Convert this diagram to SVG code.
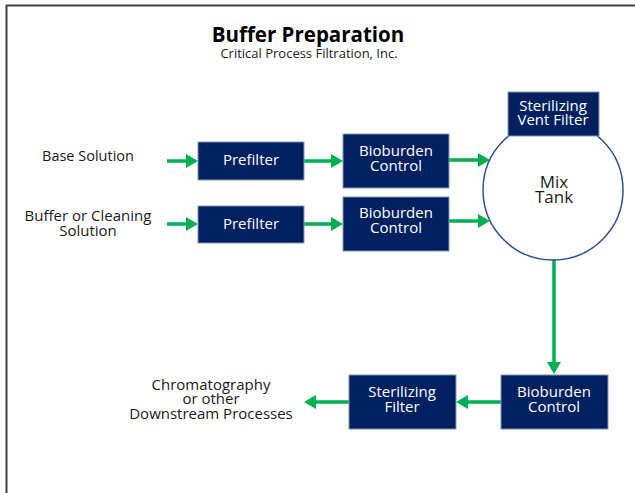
<svg xmlns="http://www.w3.org/2000/svg" width="635" height="493" viewBox="0 0 635 493">
<style>
.box{fill:#002060;stroke:#8497b0;stroke-width:1}
.bt{font-family:"Open Sans","Liberation Sans",sans-serif;font-size:15px;fill:#ffffff;text-anchor:middle}
.lt{font-family:"Open Sans","Liberation Sans",sans-serif;font-size:15px;fill:#1a1a1a;text-anchor:middle}
.ar{stroke:#00b050;stroke-width:3.5;fill:none;marker-end:url(#ah)}
</style>
<defs>
<marker id="ah" markerUnits="userSpaceOnUse" markerWidth="12" markerHeight="14" refX="4" refY="7" orient="auto">
<path d="M0,0 L12,7 L0,14 z" fill="#00b050"/>
</marker>
</defs>
<rect width="635" height="493" fill="#ffffff"/>
<path d="M6.5,493 V5.5 H635" fill="none" stroke="#404040" stroke-width="2"/>
<g id="title">
<text x="308" y="42" style="font-family:'Open Sans','Liberation Sans',sans-serif;font-size:20.5px;font-weight:bold;fill:#000;text-anchor:middle">Buffer Preparation</text>
<text x="309" y="58" style="font-family:'Open Sans','Liberation Sans',sans-serif;font-size:13px;fill:#1a1a1a;text-anchor:middle">Critical Process Filtration, Inc.</text>
</g>
<g id="connectors">
<line class="ar" x1="167" y1="161" x2="190" y2="161"/>
<line class="ar" x1="167" y1="224" x2="190" y2="224"/>
<line class="ar" x1="304" y1="161" x2="335" y2="161"/>
<line class="ar" x1="304" y1="224" x2="335" y2="224"/>
<line class="ar" x1="449" y1="160" x2="482" y2="160"/>
<line class="ar" x1="449" y1="221" x2="482" y2="221"/>
<line class="ar" x1="554" y1="260" x2="554" y2="366"/>
<line class="ar" x1="501" y1="402" x2="464" y2="402"/>
<line class="ar" x1="349" y1="402" x2="312" y2="402"/>
</g>
<g id="base-solution"><text class="lt" x="88" y="161" style="font-size:14.5px">Base Solution</text></g>
<g id="buffer-solution"><text class="lt" x="88" y="221">Buffer or Cleaning</text><text class="lt" x="88" y="236">Solution</text></g>
<g id="prefilter1"><rect class="box" x="198" y="142" width="106" height="38"/><text class="bt" x="251" y="165">Prefilter</text></g>
<g id="prefilter2"><rect class="box" x="198" y="206" width="106" height="37"/><text class="bt" x="251" y="229">Prefilter</text></g>
<g id="bioburden1"><rect class="box" x="343" y="134" width="106" height="54"/><text class="bt" x="396" y="156">Bioburden</text><text class="bt" x="396" y="171">Control</text></g>
<g id="bioburden2"><rect class="box" x="343" y="197" width="106" height="54"/><text class="bt" x="396" y="218">Bioburden</text><text class="bt" x="396" y="233">Control</text></g>
<g id="mix-tank"><circle cx="553" cy="190" r="70" fill="#ffffff" stroke="#2f4f8f" stroke-width="1.5"/><text class="lt" x="554" y="188" style="font-size:17px">Mix</text><text class="lt" x="554" y="203" style="font-size:17px">Tank</text></g>
<g id="vent-filter"><rect class="box" x="508" y="92" width="91" height="44"/><text class="bt" x="553" y="111">Sterilizing</text><text class="bt" x="553" y="125">Vent Filter</text></g>
<g id="bioburden3"><rect class="box" x="501" y="375" width="107" height="54"/><text class="bt" x="554" y="397">Bioburden</text><text class="bt" x="554" y="412">Control</text></g>
<g id="sterilizing-filter"><rect class="box" x="349" y="375" width="107" height="54"/><text class="bt" x="402" y="397">Sterilizing</text><text class="bt" x="402" y="412">Filter</text></g>
<g id="downstream"><text class="lt" x="211" y="390">Chromatography</text><text class="lt" x="211" y="404">or other</text><text class="lt" x="211" y="419">Downstream Processes</text></g>
</svg>
